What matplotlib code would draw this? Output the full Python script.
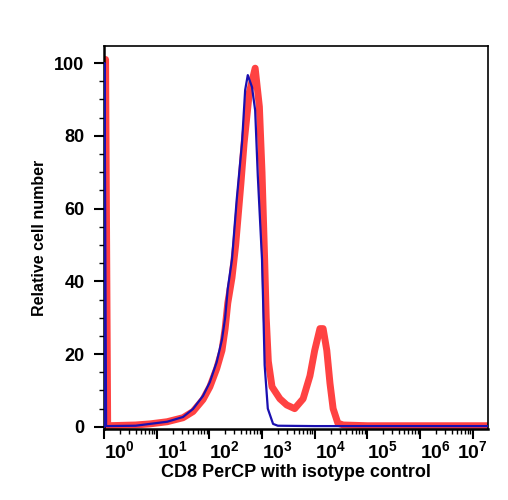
import numpy as np
import matplotlib
matplotlib.use("Agg")
import matplotlib.pyplot as plt
from matplotlib.ticker import FixedLocator, LogLocator, NullFormatter, MultipleLocator

plt.rcParams['font.family'] = ['Liberation Sans', 'DejaVu Sans']
plt.rcParams['font.weight'] = 'bold'
plt.rcParams['mathtext.fontset'] = 'custom'
plt.rcParams['mathtext.rm'] = 'Liberation Sans:bold'
plt.rcParams['mathtext.bf'] = 'Liberation Sans:bold'

# Isotype control (blue): log10 fluorescence vs relative cell number
blue_log = [0.0, 0.01, 0.04, 0.6, 0.87, 1.20, 1.50, 1.69, 1.88, 2.01, 2.14, 2.24, 2.30,
            2.35, 2.43, 2.52, 2.62, 2.68, 2.73, 2.81, 2.87, 2.92, 3.00, 3.02, 3.05,
            3.11, 3.21, 3.30, 4.0, 5.0, 6.0, 7.29]
blue_val = [0, 100, 0.2, 0.3, 0.8, 1.4, 2.7, 4.9, 8.5, 12.3, 17.8, 24, 30,
            38, 46, 62.5, 78, 92.6, 96.7, 93.4, 87, 69, 46, 35, 17,
            5, 0.8, 0.3, 0.2, 0.2, 0.2, 0.2]

# CD8 PerCP (red)
red_log = [0.02, 0.03, 0.07, 0.6, 0.87, 1.20, 1.50, 1.69, 1.88, 2.01, 2.14, 2.24, 2.30,
           2.35, 2.43, 2.50, 2.60, 2.66, 2.76, 2.87, 2.95, 3.00, 3.05, 3.08, 3.12,
           3.19, 3.34, 3.47, 3.62, 3.78, 3.91, 4.00, 4.10, 4.16, 4.23, 4.29, 4.35,
           4.44, 4.54, 5.0, 6.0, 7.29]
red_val = [0, 101, 0.3, 0.5, 0.8, 1.4, 2.5, 4.2, 7.5, 11, 16, 21, 27,
           34, 41, 50, 67, 78, 92, 98.6, 88, 70, 46, 30, 18,
           11, 7.7, 6, 5, 7.7, 14, 21, 27, 27, 21, 12, 5,
           1, 0.5, 0.3, 0.3, 0.3]

xtick_exp = [0, 1, 2, 3, 4, 5, 6, 7]
yticks = [0, 20, 40, 60, 80, 100]

fig = plt.figure(figsize=(5.08, 5.0), dpi=100)
ax = fig.add_axes([0.2047, 0.142, 0.7559, 0.766])

ax.plot(10 ** np.array(red_log), red_val, color='#ff3838', lw=5.0, alpha=0.95,
        solid_joinstyle='round', zorder=2)
ax.plot(10 ** np.array(blue_log), blue_val, color='#1a0fb0', lw=1.6, zorder=3)

ax.set_xscale('log')
ax.set_xlim(1, 10 ** 7.29)
ax.set_ylim(-0.6, 104.7)

ax.xaxis.set_major_locator(FixedLocator([10.0 ** e for e in xtick_exp]))
ax.xaxis.set_minor_locator(LogLocator(base=10, subs=np.arange(2, 10), numticks=50))
ax.xaxis.set_minor_formatter(NullFormatter())
ax.set_xticklabels([r'$10^{%d}$' % e for e in xtick_exp])
for i, lab in enumerate(ax.get_xticklabels()):
    lab.set_horizontalalignment('center' if i == len(xtick_exp) - 1 else 'left')

ax.set_yticks(yticks)
ax.yaxis.set_minor_locator(MultipleLocator(5))

ax.tick_params(axis='both', which='major', direction='out', length=7, width=1.5)
ax.tick_params(axis='x', which='major', labelsize=14, pad=1)
ax.tick_params(axis='y', which='major', labelsize=13, pad=7)
ax.tick_params(axis='both', which='minor', direction='out', length=3.5, width=1)
for lab in ax.get_xticklabels() + ax.get_yticklabels():
    lab.set_fontweight('bold')

for s in ax.spines.values():
    s.set_linewidth(1.2)
ax.spines['left'].set_linewidth(1.8)
ax.spines['bottom'].set_linewidth(1.8)

ax.set_xlabel('CD8 PerCP with isotype control', fontsize=13, fontweight='bold', labelpad=1)
ax.set_ylabel('Relative cell number', fontsize=11.5, fontweight='bold', labelpad=5)

fig.savefig('out.png', dpi=100)
